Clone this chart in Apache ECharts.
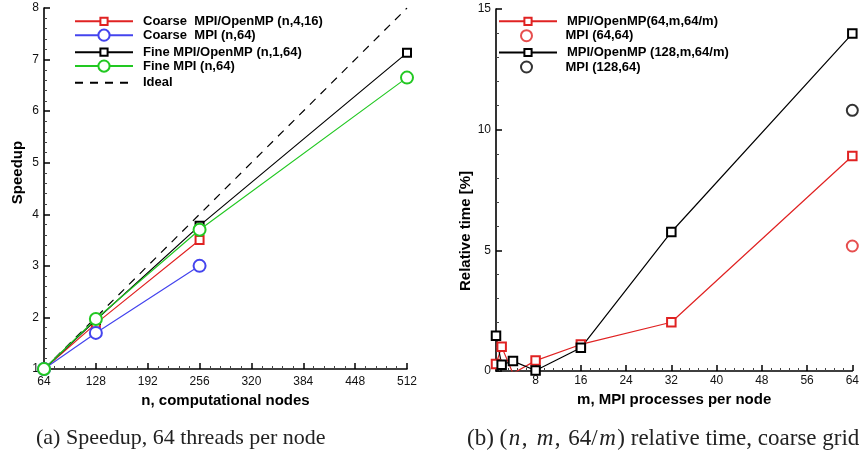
<!DOCTYPE html>
<html><head><meta charset="utf-8">
<script src="https://cdn.jsdelivr.net/npm/echarts@6/dist/echarts.min.js"></script>
<style>html,body{margin:0;padding:0;background:#fff}#c{width:862px;height:453px}</style>
</head><body><div id="c"></div>
<script>
// ---- (a) Speedup data ----
const nodes = [64, 128, 256, 512];
const coarseHybrid = [1, 1.88, 3.5];          // Coarse  MPI/OpenMP (n,4,16)
const coarseMPI = [1, 1.7, 3.0];              // Coarse  MPI (n,64)
const fineHybrid = [1, 1.95, 3.78, 7.13];     // Fine MPI/OpenMP (n,1,64)
const fineMPI = [1, 1.97, 3.7, 6.65];         // Fine MPI (n,64)
const idealNodes = [64, 512];
const idealSpeedup = [1, 8];
const nodeTicks = [64, 128, 192, 256, 320, 384, 448, 512];
const speedupTicks = [1, 2, 3, 4, 5, 6, 7, 8];

// ---- (b) Relative time data ----
const mValues = [1, 2, 4, 8, 16, 32, 64];
const rel64 = [0.29, 1.0, -0.1, 0.43, 1.1, 2.02, 8.91];     // MPI/OpenMP(64,m,64/m)
const rel128 = [1.46, 0.26, 0.41, 0.02, 0.96, 5.76, 13.98]; // MPI/OpenMP (128,m,64/m)
const mpi64M = [64], mpi64Rel = [5.18];                     // MPI (64,64)
const mpi128M = [64], mpi128Rel = [10.8];                   // MPI (128,64)
const mTicks = [8, 16, 24, 32, 40, 48, 56, 64];
const relTicks = [0, 5, 10, 15];

const mMinorTicks = [];
for (let k = 1; k * 1.6 < 64; k++) { if (k % 5 !== 0) mMinorTicks.push(+(k * 1.6).toFixed(2)); }

const zip = (xs, ys) => ys.map((y, i) => [xs[i], y]);

const RED = '#e02222', BLUE = '#4444ee', GREEN = '#22c822', BLACK = '#000';
const SANS = 'Liberation Sans';

function axisBase(extra) {
  return Object.assign({
    type: 'value',
    splitLine: { show: false },
    axisLine: { show: true, lineStyle: { color: '#000', width: 1.6 } },
    axisTick: { show: true, inside: true, length: 6, lineStyle: { color: '#000', width: 1.5 } },
    minorTick: { show: true, splitNumber: 5, length: 3, lineStyle: { color: '#444', width: 1 } },
    axisLabel: { color: '#111', fontSize: 12, fontFamily: SANS, margin: 5 },
    nameLocation: 'middle',
    nameTextStyle: { fontFamily: SANS, fontWeight: 'bold', fontSize: 15, color: '#000' }
  }, extra);
}

function leg(name, left, cy, h, item) {
  return {
    data: [item ? Object.assign({ name: name }, item) : name],
    left: left, top: cy - h / 2, orient: 'vertical', padding: 0,
    itemWidth: 58, itemHeight: h, selectedMode: false,
    lineStyle: { width: 2 },
    textStyle: { fontFamily: SANS, fontWeight: 'bold', fontSize: 13, color: '#000', padding: [0, 0, 0, 5] }
  };
}

const lineSeries = (name, xi, yi, data, symbol, size, color, extra) => Object.assign({
  name: name, type: 'line', xAxisIndex: xi, yAxisIndex: yi, data: data,
  symbol: symbol, symbolSize: size, showAllSymbol: true,
  lineStyle: { color: color, width: 1.2 },
  itemStyle: { color: color, borderWidth: 1.3 },
  emphasis: { disabled: true }, animation: false
}, extra || {});

const SERIF = 'Liberation Serif';
const option = {
  backgroundColor: '#fff',
  animation: false,
  title: [
    { text: '(a) Speedup, 64 threads per node', left: 36, top: 427, padding: 0,
      textStyle: { fontFamily: SERIF, fontWeight: 'normal', fontSize: 22, color: '#222' } },
    { text: '(b) ({i|n}{c|,} {i|m}{c|,} 64/{i|m}) relative time, coarse grid', left: 467, top: 427, padding: 0,
      textStyle: { fontFamily: SERIF, fontWeight: 'normal', fontSize: 23, color: '#222',
        rich: {
          i: { fontFamily: SERIF, fontStyle: 'italic', fontSize: 23, color: '#222', padding: [0, 1.5, 0, 1.5] },
          c: { fontFamily: SERIF, fontSize: 23, color: '#222', padding: [0, 2, 0, 0] }
        } } }
  ],
  grid: [
    { left: 44, right: 455, top: 8, bottom: 84 },
    { left: 496, right: 4, top: 9, bottom: 82 }
  ],
  xAxis: [
    axisBase({ gridIndex: 0, position: 'bottom', min: 64, max: 512, interval: 64, name: 'n, computational nodes', nameGap: 17,
      axisLabel: { color: '#111', fontSize: 12, fontFamily: SANS, margin: 7 } }),
    axisBase({ gridIndex: 1, position: 'bottom', min: 1, max: 64, name: 'm, MPI processes per node', nameGap: 15,
      minorTick: { show: false },
      axisTick: { show: true, inside: true, length: 6, customValues: mTicks, lineStyle: { color: '#000', width: 1.5 } },
      axisLabel: { color: '#111', fontSize: 12, fontFamily: SANS, margin: 4, customValues: mTicks } }),
    axisBase({ gridIndex: 1, position: 'bottom', min: 1, max: 64, minorTick: { show: false },
      axisLine: { show: false }, axisLabel: { show: false },
      axisTick: { show: true, inside: true, length: 3, customValues: mMinorTicks, lineStyle: { color: '#444', width: 1 } } })
  ],
  yAxis: [
    axisBase({ gridIndex: 0, min: 1, max: 8, interval: 1, name: 'Speedup', nameGap: 19,
      nameTextStyle: { fontFamily: SANS, fontWeight: 'bold', fontSize: 15, color: '#000', padding: [0, 0, 0, 32] } }),
    axisBase({ gridIndex: 1, min: 0, max: 15, interval: 5, name: 'Relative time [%]', nameGap: 22,
      nameTextStyle: { fontFamily: SANS, fontWeight: 'bold', fontSize: 15, color: '#000', padding: [0, 82, 0, 0] } })
  ],
  legend: [
    leg('Coarse  MPI/OpenMP (n,4,16)', 74, 19.3, 9),
    leg('Coarse  MPI (n,64)', 74, 35.6, 14),
    leg('Fine MPI/OpenMP (n,1,64)', 74, 50.2, 9),
    leg('Fine MPI (n,64)', 74, 66.5, 14),
    leg('Ideal', 74, 80.7, 9, { itemStyle: { opacity: 0 } }),
    leg('MPI/OpenMP(64,m,64/m)', 498, 19.3, 9),
    leg('MPI (64,64)', 520, 34.7, 11),
    leg('MPI/OpenMP (128,m,64/m)', 498, 50.5, 9),
    leg('MPI (128,64)', 520, 66, 11)
  ],
  series: [
    lineSeries('Ideal', 0, 0, zip(idealNodes, idealSpeedup), 'none', 0, BLACK,
      { lineStyle: { color: BLACK, width: 1.2, type: [8, 7] } }),
    lineSeries('Coarse  MPI/OpenMP (n,4,16)', 0, 0, zip(nodes, coarseHybrid), 'emptyRect', 8, RED),
    lineSeries('Coarse  MPI (n,64)', 0, 0, zip(nodes, coarseMPI), 'emptyCircle', 12, BLUE),
    lineSeries('Fine MPI/OpenMP (n,1,64)', 0, 0, zip(nodes, fineHybrid), 'emptyRect', 8, BLACK),
    lineSeries('Fine MPI (n,64)', 0, 0, zip(nodes, fineMPI), 'emptyCircle', 12, GREEN),

    lineSeries('MPI/OpenMP(64,m,64/m)', 1, 1, zip(mValues, rel64), 'emptyRect', 8.5, RED),
    { name: 'MPI (64,64)', type: 'scatter', xAxisIndex: 1, yAxisIndex: 1, data: zip(mpi64M, mpi64Rel),
      symbol: 'emptyCircle', symbolSize: 11, itemStyle: { color: RED, borderWidth: 1.3 }, emphasis: { disabled: true } },
    lineSeries('MPI/OpenMP (128,m,64/m)', 1, 1, zip(mValues, rel128), 'emptyRect', 8.5, BLACK),
    { name: 'MPI (128,64)', type: 'scatter', xAxisIndex: 1, yAxisIndex: 1, data: zip(mpi128M, mpi128Rel),
      symbol: 'emptyCircle', symbolSize: 11, itemStyle: { color: BLACK, borderWidth: 1.3 }, emphasis: { disabled: true } }
  ]
};

const chart = echarts.init(document.getElementById('c'), null, { renderer: 'canvas' });
chart.setOption(option);
</script>
</body></html>
